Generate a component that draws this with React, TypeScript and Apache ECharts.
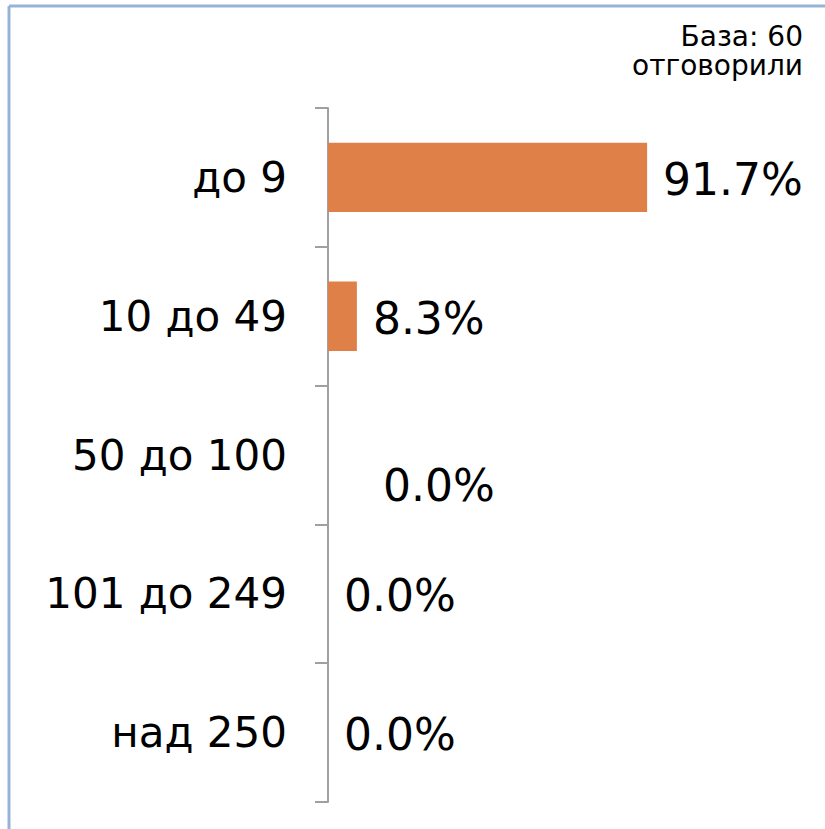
import React, { useEffect, useRef } from "react";
import * as echarts from "echarts";

const categories = ["до 9", "10 до 49", "50 до 100", "101 до 249", "над 250"];
const values = [91.7, 8.3, 0.0, 0.0, 0.0];
const baseNote = ["База: 60", "отговорили"];

export default function App() {
  const ref = useRef<HTMLDivElement>(null);
  useEffect(() => {
    const chart = echarts.init(ref.current!, null, { renderer: "svg" });
    const font = "DejaVu Sans";
    chart.setOption({
      animation: false,
      backgroundColor: "#ffffff",
      grid: { left: 328, right: 149, top: 108, bottom: 27, containLabel: false },
      xAxis: { type: "value", min: 0, max: 100, show: false },
      yAxis: {
        type: "category",
        data: categories,
        inverse: true,
        axisLine: { show: true, lineStyle: { color: "#a0a0a0", width: 2 } },
        axisTick: { show: true, length: 13, lineStyle: { color: "#a0a0a0", width: 2 } },
        axisLabel: { fontSize: 42, color: "#000", fontFamily: font, margin: 41 },
        splitLine: { show: false },
      },
      series: [
        {
          type: "bar",
          barWidth: "50%",
          itemStyle: { color: "#df8049" },
          data: values.map((v, i) =>
            i === 2
              ? { value: v, label: { offset: [39, 30] } }
              : { value: v }
          ),
          label: {
            show: true,
            position: "right",
            distance: 16,
            fontSize: 44,
            fontFamily: font,
            color: "#000",
            offset: [0, 2],
            formatter: (p: any) => Number(p.value).toFixed(1) + "%",
          },
        },
      ],
      graphic: [
        { type: "line", shape: { x1: 9, y1: 6, x2: 825, y2: 6 }, style: { stroke: "#95b3d7", lineWidth: 3 } },
        { type: "line", shape: { x1: 9, y1: 6, x2: 9, y2: 829 }, style: { stroke: "#95b3d7", lineWidth: 3 } },
        ...baseNote.map((t, i) => ({
          type: "text",
          x: 803,
          y: 22 + i * 29,
          style: {
            text: t,
            fontSize: 28,
            fontFamily: font,
            fill: "#000",
            align: "right",
            verticalAlign: "top",
          },
        })),
      ],
    });
    return () => chart.dispose();
  }, []);
  return (
    <div
      ref={ref}
      style={{ position: "fixed", left: 0, top: 0, width: 825, height: 829 }}
    />
  );
}
